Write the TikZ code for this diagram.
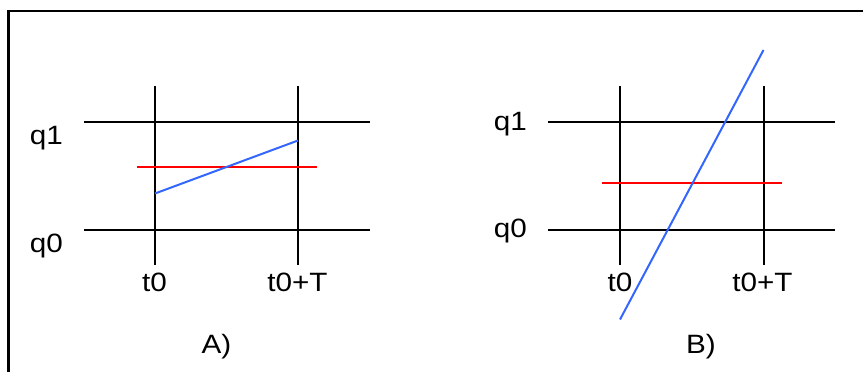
\documentclass[tikz,border=0pt]{standalone}
\usepackage{fontspec}
\setmainfont[FakeStretch=1.12]{Liberation Sans}
\begin{document}
\begin{tikzpicture}[x=1pt,y=-1pt,
  gridline/.style={line width=2pt,black},
  redline/.style={line width=2pt,color={rgb,255:red,255;green,0;blue,0}},
  blueline/.style={line width=2pt,color={rgb,255:red,51;green,102;blue,255}},
  lab/.style={inner sep=0pt,font=\fontsize{26.5}{30}\selectfont}]
\useasboundingbox (0,0) rectangle (863,372);
\clip (0,0) rectangle (863,372);
\draw[line width=2.6pt] (8.5,11) rectangle (880,390);
% Panel A
\draw[gridline] (155,86) -- (155,265);
\draw[gridline] (298,86) -- (298,265);
\draw[gridline] (84,122) -- (370,122);
\draw[gridline] (84,229.5) -- (370,229.5);
\draw[redline] (136.5,166.5) -- (316.5,166.5);
\draw[blueline] (155,193.5) -- (298,140.5);
\node[lab] (qa1) at (46.5,138) {q1};
\node[lab] (qa0) at (46.5,246) {q0};
\node[lab] (ta0) at (154.5,282) {t0};
\node[lab] (taT) at (297.5,282) {t0+T};
\node[lab] (A) at (216.5,347) {A)};
% Panel B
\draw[gridline] (620,86) -- (620,265);
\draw[gridline] (763.5,86) -- (763.5,265);
\draw[gridline] (548,122) -- (835,122);
\draw[gridline] (548,229.5) -- (835,229.5);
\draw[redline] (602,182.5) -- (781.5,182.5);
\draw[blueline] (763.5,50) -- (620,319.5);
\node[lab] (qb1) at (510.5,124) {q1};
\node[lab] (qb0) at (510.5,231) {q0};
\node[lab] (tb0) at (620,282) {t0};
\node[lab] (tbT) at (762.5,282) {t0+T};
\node[lab] (B) at (701,347) {B)};
\end{tikzpicture}
\end{document}
